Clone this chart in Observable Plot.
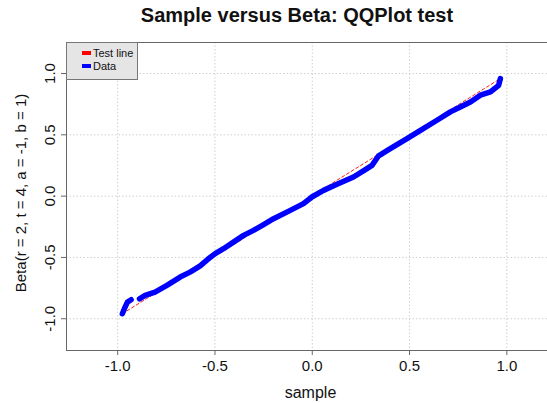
<!DOCTYPE html>
<html>
<head>
<meta charset="utf-8">
<script src="https://cdn.jsdelivr.net/npm/d3@7"></script>
<script src="https://cdn.jsdelivr.net/npm/@observablehq/plot@0.6"></script>
<style>
  body { margin: 0; background: white; }
  #wrap { position: relative; width: 547px; height: 403px; overflow: hidden; font-family: "Liberation Sans", Arial, sans-serif; }
  #wrap svg { position: absolute; left: 0; top: 0; }
  .ov { position: absolute; white-space: nowrap; color: #111; }
  #title { left: 0; width: 594px; top: 4px; text-align: center; font-size: 20px; font-weight: bold; line-height: 22px; }
  #xlab { left: 70px; width: 481px; top: 384px; text-align: center; font-size: 16px; line-height: 18px; }
  #ylab { left: 21px; top: 193px; font-size: 15px; line-height: 18px; transform: translate(-50%, -50%) rotate(-90deg); }
  #legend { left: 66px; top: 42px; width: 72px; height: 38px; background: #e5e5e5; border: 1px solid #777; box-sizing: border-box; font-size: 11px; }
  .item { position: absolute; left: 15px; line-height: 12px; }
  .sw { display: inline-block; width: 9px; height: 4px; margin-right: 2px; vertical-align: 2px; }
</style>
</head>
<body>
<div id="wrap">
  <div id="chart"></div>
  <div class="ov" id="title">Sample versus Beta: QQPlot test</div>
  <div class="ov" id="xlab">sample</div>
  <div class="ov" id="ylab">Beta(r = 2, t = 4, a = -1, b = 1)</div>
  <div class="ov" id="legend">
    <div class="item" style="top:4px"><span class="sw" style="background:#ff0000"></span>Test line</div>
    <div class="item" style="top:17px"><span class="sw" style="background:#0000ff"></span>Data</div>
  </div>
</div>
<script>
// Axis ticks and domains
const xTicks = [-1, -0.5, 0, 0.5, 1];
const yTicks = [-1, -0.5, 0, 0.5, 1];
const xDomain = [-1.263, 1.209];
const yDomain = [-1.259, 1.253];

// Data (sample quantiles vs Beta quantiles)
const qqX = [-0.976, -0.962, -0.950, -0.931,
  -0.888, -0.859, -0.808, -0.747, -0.679, -0.628, -0.576, -0.525, -0.499, -0.456, -0.405, -0.353,
  -0.302, -0.250, -0.199, -0.113, -0.045, -0.002, 0.058, 0.127, 0.212, 0.273, 0.307, 0.341, 0.401,
  0.487, 0.556, 0.641, 0.710, 0.761, 0.813, 0.864, 0.916, 0.958, 0.967];
const qqY = [-0.959, -0.905, -0.864, -0.845,
  -0.837, -0.810, -0.783, -0.728, -0.660, -0.620, -0.569, -0.500, -0.469, -0.429, -0.375, -0.320,
  -0.279, -0.232, -0.184, -0.116, -0.061, -0.007, 0.047, 0.096, 0.156, 0.216, 0.251, 0.329, 0.388,
  0.469, 0.537, 0.619, 0.687, 0.727, 0.768, 0.823, 0.850, 0.904, 0.959];
const qqSeg = [0, 0, 0, 0,
  1, 1, 1, 1, 1, 1, 1, 1, 1, 1, 1, 1, 1, 1, 1, 1, 1, 1, 1, 1, 1, 1, 1, 1, 1, 1, 1, 1, 1, 1, 1, 1, 1, 1, 1];

// Test line endpoints
const testX = [-0.976, 0.967];
const testY = [-0.959, 0.959];

const qq = qqX.map((x, i) => ({x, y: qqY[i], seg: qqSeg[i]}));
const test = testX.map((x, i) => ({x, y: testY[i]}));
const fmt = d => d.toFixed(1);

const chart = Plot.plot({
  width: 547,
  height: 403,
  marginLeft: 66,
  marginRight: 0,
  marginTop: 42,
  marginBottom: 53,
  x: {domain: xDomain},
  y: {domain: yDomain},
  style: {fontFamily: "'Liberation Sans', Arial, sans-serif", fontSize: "15px", color: "#111", background: "white"},
  marks: [
    Plot.gridX(xTicks, {stroke: "#d0d0d0", strokeOpacity: 1, strokeDasharray: "1.5,2"}),
    Plot.gridY(yTicks, {stroke: "#d0d0d0", strokeOpacity: 1, strokeDasharray: "1.5,2"}),
    Plot.ruleX([xDomain[0]], {stroke: "#666"}),
    Plot.ruleY(yDomain, {stroke: "#666"}),
    Plot.axisX(xTicks, {tickSize: 5, tickPadding: 5, tickFormat: fmt, label: null, stroke: "#666", fontSize: 15}),
    Plot.axisY(yTicks, {tickSize: 5, tickFormat: () => "", label: null, stroke: "#666"}),
    Plot.text(yTicks, {x: () => xDomain[0], y: d => d, text: fmt, rotate: -90, dx: -12, textAnchor: "middle", lineAnchor: "bottom", fontSize: 15, fill: "#111"}),
    Plot.line(test, {x: "x", y: "y", stroke: "#ff2020", strokeWidth: 1, strokeDasharray: "3,2.5"}),
    Plot.line(qq, {x: "x", y: "y", z: "seg", stroke: "#0000ff", strokeWidth: 5.5, strokeLinecap: "round", strokeLinejoin: "round"})
  ]
});
document.getElementById("chart").appendChild(chart);
</script>
</body>
</html>
